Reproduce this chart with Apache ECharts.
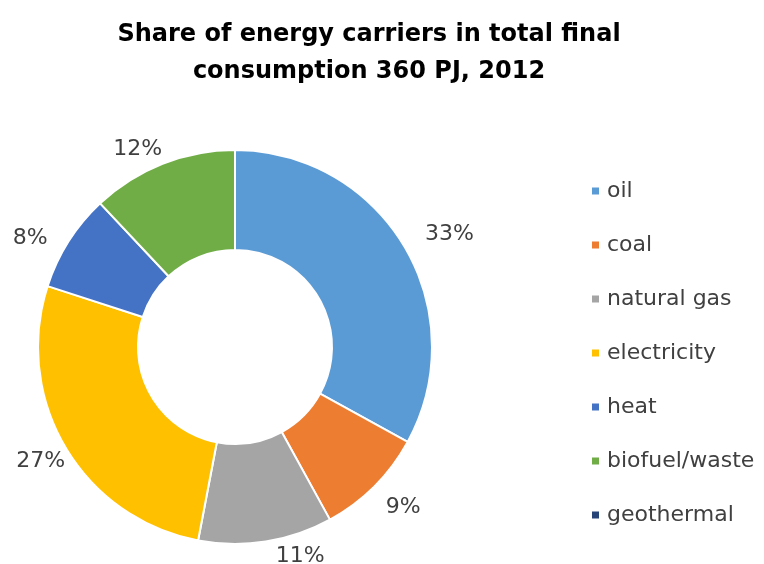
<!DOCTYPE html>
<html>
<head>
<meta charset="utf-8">
<script src="https://cdn.jsdelivr.net/npm/echarts@6/dist/echarts.min.js"></script>
<style>
  html, body { margin: 0; padding: 0; background: #fff; }
  #chart { width: 764px; height: 564px; }
</style>
</head>
<body>
<div id="chart"></div>
<script>
// energy carriers share, 2012
const carriers = ['oil', 'coal', 'natural gas', 'electricity', 'heat', 'biofuel/waste', 'geothermal']
const shares = [33, 9, 11, 27, 8, 12, 0]
const colors = ['#5B9BD5', '#ED7D31', '#A5A5A5', '#FFC000', '#4472C4', '#70AD47', '#264478']

// small label nudges, like excel's "best fit"
const labelNudge = [[5, -6], [-2, 12], [3, 3], [15, 8], [-6, 3], [9, -3], [0, 0]]

const chart = echarts.init(document.getElementById('chart'))

chart.setOption({
  animation: false,
  color: colors,
  title: {
    text: 'Share of energy carriers in total final\nconsumption 360 PJ, 2012',
    left: 364,
    textAlign: 'center',
    top: 11,
    textStyle: {
      fontFamily: 'DejaVu Sans',
      fontSize: 24,
      fontWeight: 'bold',
      color: '#000',
      lineHeight: 37
    }
  },
  legend: {
    orient: 'vertical',
    left: 585,
    top: 173,
    itemWidth: 9,
    itemHeight: 9,
    itemGap: 28,
    icon: 'rect',
    data: carriers,
    textStyle: { fontFamily: 'DejaVu Sans', fontSize: 22, color: '#404040', padding: [0, 0, 0, 2], lineHeight: 26 }
  },
  series: [
    {
      type: 'pie',
      center: [235, 347],
      radius: [97, 197],
      startAngle: 90,
      clockwise: true,
      avoidLabelOverlap: false,
      itemStyle: { borderColor: '#fff', borderWidth: 2 },
      label: {
        show: true,
        position: 'outside',
        formatter: (p) => (p.value > 0 ? p.value + '%' : ''),
        fontFamily: 'DejaVu Sans',
        fontSize: 22,
        color: '#404040'
      },
      labelLine: { show: false, length: 12, length2: 0 },
      labelLayout: (params) => {
        const n = labelNudge[params.dataIndex] || [0, 0]
        return { dx: n[0], dy: n[1] }
      },
      data: carriers.map((name, i) => ({ name, value: shares[i] }))
    }
  ]
})
</script>
</body>
</html>
